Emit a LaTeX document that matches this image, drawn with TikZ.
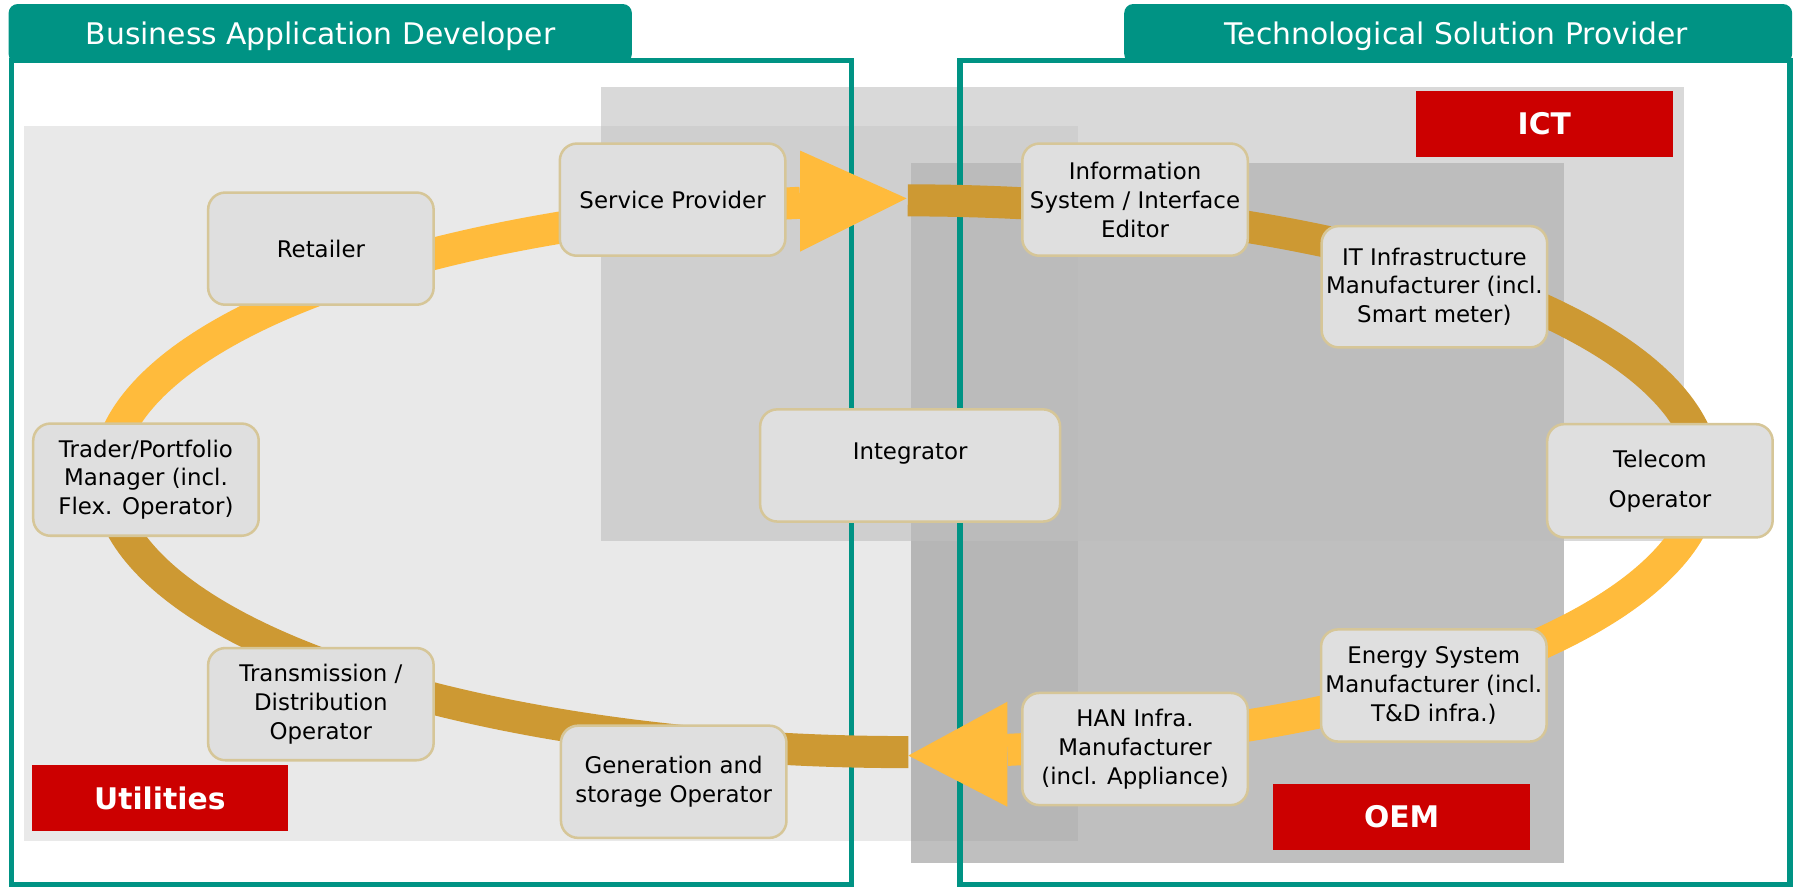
\documentclass[tikz,border=0pt]{standalone}
\usepackage{fontspec}
\setmainfont{DejaVu Sans}
\definecolor{frameteal}{RGB}{0,147,132}
\definecolor{tagred}{RGB}{204,0,0}
\definecolor{boxfill}{RGB}{223,223,223}
\definecolor{boxedge}{RGB}{214,198,152}
\definecolor{ringlight}{RGB}{255,187,60}
\definecolor{ringdark}{RGB}{205,153,51}
\definecolor{utilgray}{RGB}{233,233,233}
\definecolor{ictgray}{RGB}{217,217,217}
\definecolor{utilictgray}{RGB}{207,207,207}
\definecolor{oemgray}{RGB}{191,191,191}
\definecolor{oemictgray}{RGB}{189,189,189}
\definecolor{oemutilgray}{RGB}{182,182,182}
\definecolor{allgray}{RGB}{187,187,187}
\def\ringarc[#1](#2:#3){\draw[#1] plot[domain=#2:#3,samples=90] ({791.5+697.5*cos(\x)},{416+241*sin(\x)});}

\begin{document}
\begin{tikzpicture}[x=0.5pt, y=-0.5pt,
	rolebox/.style={draw=boxedge, line width=1.1pt, fill=boxfill, rounded corners=7.5pt,
		minimum width=98.5pt, minimum height=49pt, align=center, inner sep=1pt,
		font=\fontsize{10}{12.6}\selectfont},
	tag/.style={fill=tagred, text=white, minimum width=112pt, minimum height=29pt,
		inner sep=0pt, font=\fontsize{13}{15}\selectfont\bfseries},
	tabtext/.style={text=white, anchor=base, inner sep=0pt, font=\fontsize{13}{15}\selectfont},
	frame/.style={line width=2.2pt, color=frameteal},
	lightband/.style={line width=14pt, color=ringlight},
	darkband/.style={line width=14pt, color=ringdark}]
		%%%%% START %%%%%
		\useasboundingbox (0,0) rectangle (1568,775);
		
		%%%%% AREAS %%%%%
		\fill[utilgray] (21,110) rectangle (942,735);
		\fill[ictgray] (525,76) rectangle (1471,473);
		\fill[utilictgray] (525,110) rectangle (942,473);
		\fill[oemgray] (796,142) rectangle (1366,754);
		\fill[oemictgray] (796,142) rectangle (1366,473);
		\fill[oemutilgray] (796,473) rectangle (942,735);
		\fill[allgray] (796,142) rectangle (942,473);
		
		%%%%% FRAMES %%%%%
		\draw[frame] (10,53) rectangle (743.5,772.5);
		\draw[frame] (838.6,53) rectangle (1563.6,772.5);
		\fill[frameteal, rounded corners=4pt] (7.5,3.5) rectangle (552,55);
		\fill[frameteal, rounded corners=4pt] (982,3.5) rectangle (1565.5,55);
		\node[tabtext] (bad) at (280,38.5) {Business Application Developer};
		\node[tabtext] (tsp) at (1272,38.5) {Technological Solution Provider};
		
		%%%%% RING %%%%%
		\ringarc[lightband](180:262.38)
		\ringarc[darkband](270.12:360)
		\ringarc[lightband](0:82.71)
		\ringarc[darkband](89.84:180)
		\fill[ringlight] (699,131.6) -- (792,173.3) -- (699,219.8) -- cycle;
		\fill[ringlight] (880,613) -- (793.5,660) -- (880,704.7) -- cycle;
		
		%%%%% ROLES %%%%%
		\node[rolebox] (ret) at (280.3,217.2) {Retailer};
		\node[rolebox] (sp) at (587.5,174.4) {Service Provider};
		\node[rolebox] (trd) at (127.5,419) {Trader/Portfolio\\Manager (incl.\\Flex. Operator)};
		\node[rolebox] (tdo) at (280.3,615.1) {Transmission /\\Distribution\\Operator};
		\node[rolebox] (gen) at (588.5,682.9) {Generation and\\storage Operator};
		\node[rolebox, minimum width=131pt] (integ) at (795,406.6) {Integrator\\\mbox{}};
		\node[rolebox] (info) at (991.5,174.4) {Information\\System / Interface\\Editor};
		\node[rolebox, minimum height=53pt] (itm) at (1253,250.5) {IT Infrastructure\\Manufacturer (incl.\\Smart meter)};
		\node[rolebox, minimum height=49.5pt] (tel) at (1450,420) {Telecom\\[4.9pt]Operator};
		\node[rolebox] (esm) at (1252.5,598.8) {Energy System\\Manufacturer (incl.\\T\&D infra.)};
		\node[rolebox] (han) at (991.5,654.3) {HAN Infra.\\Manufacturer\\(incl. Appliance)};
		
		%%%%% TAGS %%%%%
		\node[tag] (ict) at (1349,108.2) {ICT};
		\node[tag] (util) at (139.6,697) {Utilities};
		\node[tag] (oem) at (1224.4,713.7) {OEM};
		
		%%%%% END %%%%%
\end{tikzpicture}
\end{document}
